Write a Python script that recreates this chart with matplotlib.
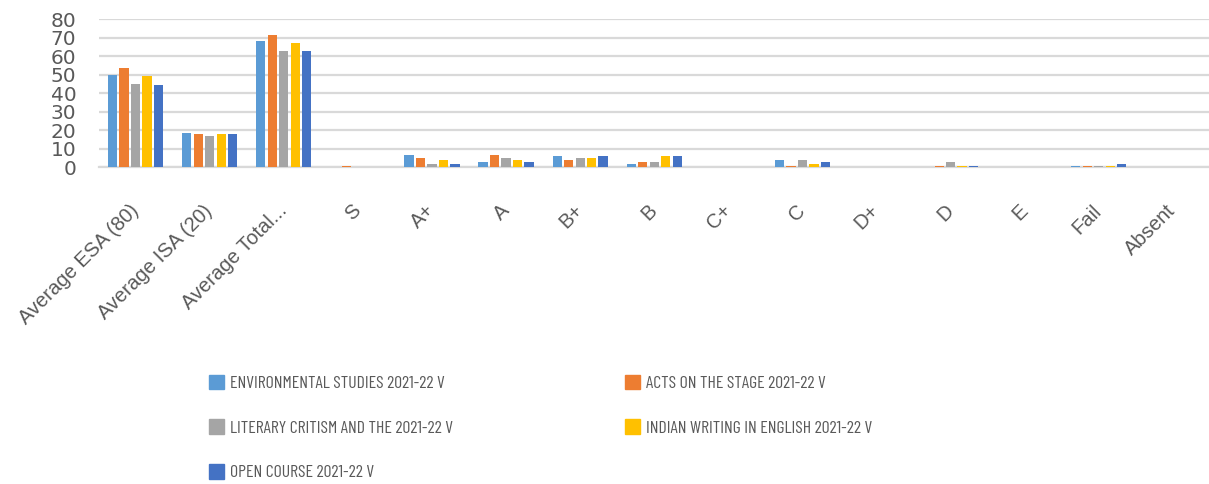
import numpy as np
import matplotlib.pyplot as plt
from matplotlib.patches import Patch

categories = ["Average ESA (80)", "Average ISA (20)", "Average Total...", "S", "A+", "A",
              "B+", "B", "C+", "C", "D+", "D", "E", "Fail", "Absent"]

env_studies = [50, 18.4, 68.4, 0, 7, 3, 6, 2, 0, 4, 0, 0, 0, 1, 0]
acts_stage = [53.5, 18, 71.7, 1, 5, 7, 4, 3, 0, 1, 0, 1, 0, 1, 0]
lit_critism = [45.2, 17.1, 62.9, 0, 2, 5, 5, 3, 0, 4, 0, 3, 0, 1, 0]
indian_writing = [49.4, 18, 67.4, 0, 4, 4, 5, 6, 0, 2, 0, 1, 0, 1, 0]
open_course = [44.5, 18, 62.9, 0, 2, 3, 6, 6, 0, 3, 0, 1, 0, 2, 0]

series_names = ["ENVIRONMENTAL STUDIES 2021-22 V", "ACTS ON THE STAGE 2021-22 V",
                "LITERARY CRITISM AND THE 2021-22 V", "INDIAN WRITING IN ENGLISH 2021-22 V",
                "OPEN COURSE 2021-22 V"]
colors = ["#5b9bd5", "#ed7d31", "#a5a5a5", "#ffc000", "#4472c4"]

series = [env_studies, acts_stage, lit_critism, indian_writing, open_course]

text_color = "#595959"
plt.rcParams['font.family'] = ['Liberation Sans', 'DejaVu Sans']

fig = plt.figure(figsize=(12.09, 4.84), dpi=100)
# plot area runs off the right edge of the canvas
ax = fig.add_axes([0.0815, 0.654, 0.9193, 0.306])

x = np.arange(len(categories))
step = 0.155
width = 0.125
for i, (vals, name, c) in enumerate(zip(series, series_names, colors)):
    ax.bar(x + (i - 2) * step, vals, width, color=c, label=name, zorder=3)

ax.set_xlim(-0.5, len(categories) - 0.5)
ax.set_ylim(0, 80)
ax.set_yticks(range(0, 81, 10))
ax.yaxis.grid(True, color="#d9d9d9", linewidth=1.6, zorder=0)
for s in ["top", "right", "left"]:
    ax.spines[s].set_visible(False)
ax.spines["bottom"].set_color("#d9d9d9")
ax.spines["bottom"].set_linewidth(1.6)
ax.tick_params(axis="both", length=0, colors=text_color)
ax.tick_params(axis="y", pad=16)
for lbl in ax.get_yticklabels():
    lbl.set_fontfamily("DejaVu Sans")
    lbl.set_fontsize(14.5)
ax.set_xticks(x)
ax.set_xticklabels(categories, rotation=45, ha="right", va="center",
                   rotation_mode="anchor", fontsize=14.5, color=text_color)
ax.tick_params(axis="x", pad=29)

# legend filled column by column, so order handles to read across rows
order = [0, 2, 4, 1, 3]
handles = [Patch(color=colors[i]) for i in order]
labels = [series_names[i] for i in order]
fig.legend(handles, labels, loc="upper left", bbox_to_anchor=(0.160, 0.259),
           ncol=2, frameon=False, labelcolor=text_color,
           prop={"family": ["Barlow Condensed", "DejaVu Sans"], "size": 12.8},
           handlelength=0.8, handleheight=0.9, handletextpad=0.35,
           columnspacing=9.7, labelspacing=1.58)

fig.savefig("out.png", dpi=100)
